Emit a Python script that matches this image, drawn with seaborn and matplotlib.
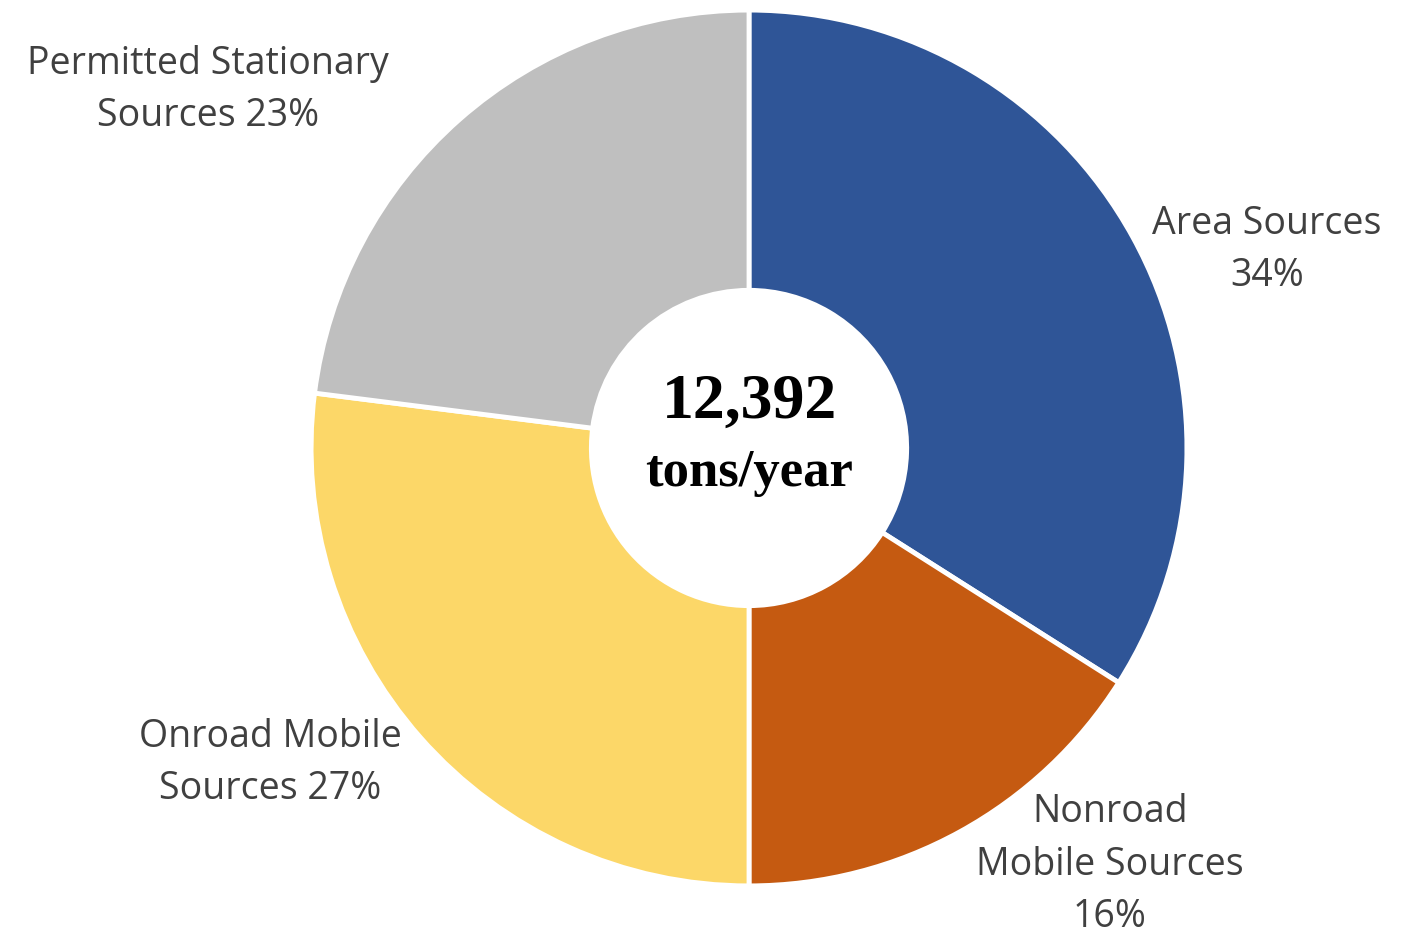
import matplotlib.pyplot as plt
import seaborn as sns

sns.set_theme(style="white")
plt.rcParams['font.family'] = ['Open Sans', 'DejaVu Sans']

# data
categories = ['Area Sources', 'Nonroad Mobile Sources', 'Onroad Mobile Sources', 'Permitted Stationary Sources']
shares = [34, 16, 27, 23]
label_texts = ['Area Sources\n34%', 'Nonroad\nMobile Sources\n16%',
               'Onroad Mobile\nSources 27%', 'Permitted Stationary\nSources 23%']
colors = ['#2F5597', '#C55A11', '#FCD768', '#BFBFBF']
total_text = '12,392'
unit_text = 'tons/year'

fig = plt.figure(figsize=(14.03, 9.38), dpi=100)
ax = fig.add_axes([0, 0, 1, 1])

wedges, _ = ax.pie(shares, colors=colors, startangle=90, counterclock=False,
                   radius=1.0, wedgeprops=dict(width=0.64, edgecolor='white', linewidth=3.5))

# label positions (data units, pie radius = 1)
label_pos = [(1.183, 0.452), (0.824, -0.952), (-1.094, -0.719), (-1.235, 0.817)]
for txt, (x, y) in zip(label_texts, label_pos):
    ax.text(x, y, txt, ha='center', va='center', fontsize=27, color='#404040',
            linespacing=1.5)

ax.text(0, 0.103, total_text, ha='center', va='center', fontsize=46, fontweight='bold',
        family='Liberation Serif', color='black')
ax.text(0, -0.058, unit_text, ha='center', va='center', fontsize=38, fontweight='bold',
        family='Liberation Serif', color='black')

ax.set_xlim(-1.710, 1.493)
ax.set_ylim(-1.119, 1.023)
ax.set_aspect('equal')
ax.axis('off')

plt.savefig('out.png', dpi=100)
plt.close()
